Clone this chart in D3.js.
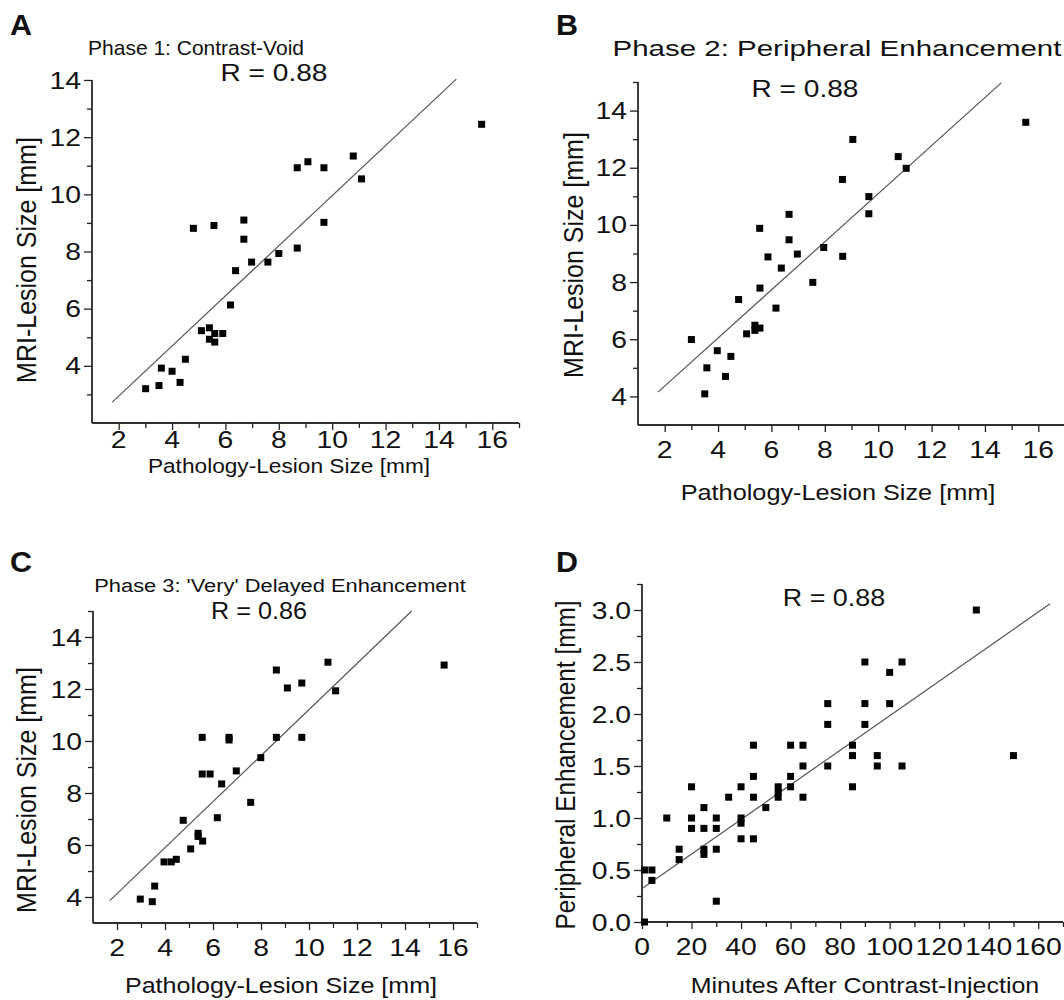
<!DOCTYPE html>
<html><head><meta charset="utf-8">
<script src="https://cdn.jsdelivr.net/npm/d3@7"></script>
<style>
body{margin:0;background:#fff}
text{font-family:"Liberation Sans",Arial,Helvetica,sans-serif;fill:#111}
</style>
</head><body>
<svg id="c" width="1064" height="1000"></svg>
<script>
// ---------- data ----------
const aX = [3.01,3.51,3.60,4.00,4.30,4.50,5.10,5.40,5.40,5.60,5.60,5.90,6.19,6.38,6.69,6.69,6.98,7.59,8.00,4.80,5.57,8.69,8.69,9.09,9.69,9.69,10.79,11.10,15.60];
const aY = [3.20,3.31,3.92,3.81,3.42,4.23,5.23,5.33,4.93,5.13,4.83,5.13,6.13,7.33,8.43,9.10,7.63,7.63,7.93,8.81,8.91,8.12,10.93,11.14,10.93,9.02,11.34,10.54,12.45];
const bX = [3.50,3.00,3.58,3.97,4.28,4.48,4.77,5.07,5.38,5.38,5.57,5.57,5.56,5.87,6.17,6.37,6.66,6.66,6.97,7.55,7.96,8.67,8.66,9.05,9.65,9.65,10.75,11.05,15.53];
const bY = [4.09,5.99,5.00,5.60,4.70,5.40,7.39,6.19,6.49,6.31,6.39,7.79,9.88,8.88,7.09,8.49,10.37,9.48,8.98,7.99,9.21,8.90,11.59,12.99,10.99,10.39,12.39,11.98,13.59];
const cX = [2.97,3.47,3.57,3.96,4.26,4.47,4.76,5.07,5.38,5.38,5.57,5.55,5.88,5.55,6.18,6.36,6.67,6.67,6.97,7.57,7.99,8.64,8.64,9.10,9.70,9.70,10.79,11.11,15.63];
const cY = [3.92,3.82,4.42,5.35,5.35,5.45,6.95,5.85,6.45,6.33,6.15,8.73,8.73,10.14,7.05,8.35,10.14,10.04,8.85,7.64,9.36,12.73,10.14,12.04,12.23,10.14,13.03,11.93,12.92];
const dX = [1,1,4,4,10,15,15,20,20,20,25,25,25,25,30,30,30,30,35,40,40,40,40,45,45,45,45,50,55,55,55,60,60,60,65,65,65,75,75,75,85,85,85,90,90,90,95,95,100,100,105,105,135,150];
const dY = [0,0.5,0.5,0.4,1.0,0.7,0.6,1.3,1.0,0.9,1.1,0.9,0.7,0.65,1.0,0.9,0.7,0.2,1.2,1.3,1.0,0.95,0.8,1.4,1.2,0.8,1.7,1.1,1.3,1.25,1.2,1.4,1.3,1.7,1.5,1.2,1.7,1.5,1.9,2.1,1.3,1.6,1.7,1.9,2.1,2.5,1.6,1.5,2.4,2.1,2.5,1.5,3.0,1.6];

const lineAX = [1.76,14.65], lineAY = [2.73,14.03];
const lineBX = [1.75,14.61], lineBY = [4.15,14.97];
const lineCX = [1.70,14.28], lineCY = [3.86,15.00];
const lineDX = [0.5,164.8],  lineDY = [0.33,3.06];

const sizeTicks = [2,4,6,8,10,12,14,16];
const sizeMinor = [3,5,7,9,11,13,15,17];
const yTicksA = [4,6,8,10,12,14];
const yMinorA = [3,5,7,9,11,13];
const yTicksBC = [4,6,8,10,12,14];
const yMinorBC = [5,7,9,11,13,15];
const minTicks = [0,20,40,60,80,100,120,140,160];
const minMinor = [10,30,50,70,90,110,130,150,170];
const enhTicks = [0,0.5,1.0,1.5,2.0,2.5,3.0];
const enhMinor = [0.25,0.75,1.25,1.75,2.25,2.75,3.25];

const letters = ["A","B","C","D"];
const titles = ["Phase 1: Contrast-Void","Phase 2: Peripheral Enhancement","Phase 3: 'Very' Delayed Enhancement",""];
const rLabels = ["R = 0.88","R = 0.88","R = 0.86","R = 0.88"];
const xTitles = ["Pathology-Lesion Size [mm]","Pathology-Lesion Size [mm]","Pathology-Lesion Size [mm]","Minutes After Contrast-Injection"];
const yTitles = ["MRI-Lesion Size [mm]","MRI-Lesion Size [mm]","MRI-Lesion Size [mm]","Peripheral Enhancement [mm]"];

// ---------- drawing ----------
const svg = d3.select("#c");

function txt(x, y, s, size, anchor, sx, opts={}) {
  const t = svg.append("text")
    .attr("transform", opts.rot ? `translate(${x},${y}) rotate(-90) scale(1,${sx})` : `translate(${x},${y}) scale(${sx},1)`)
    .attr("text-anchor", anchor).attr("font-size", size).text(s);
  if (opts.bold) t.attr("font-weight", "bold");
  return t;
}

function panel(cfg) {
  const x = d3.scaleLinear().domain(cfg.xd).range(cfg.xr);
  const y = d3.scaleLinear().domain(cfg.yd).range(cfg.yr);
  const g = svg.append("g");
  const xa = d3.axisBottom(x).tickValues(cfg.xt).tickSize(7);
  const xm = d3.axisBottom(x).tickValues(cfg.xm).tickSize(5);
  const ya = d3.axisLeft(y).tickValues(cfg.yt).tickSize(8);
  const ym = d3.axisLeft(y).tickValues(cfg.ym).tickSize(5);
  [xa, xm].forEach(a => {
    const ag = g.append("g").attr("transform", `translate(0,${cfg.yr[0]})`).call(a);
    ag.selectAll("text").remove();
    ag.selectAll("path,line").attr("stroke", "#222").attr("stroke-width", 1.3);
    ag.select(".domain").attr("d", `M${cfg.xr[0]},0H${cfg.xr[1]}`);
  });
  [ya, ym].forEach(a => {
    const ag = g.append("g").attr("transform", `translate(${cfg.xr[0]},0)`).call(a);
    ag.selectAll("text").remove();
    ag.selectAll("path,line").attr("stroke", "#222").attr("stroke-width", 1.3);
    ag.select(".domain").attr("d", `M0,${cfg.yr[0]}V${cfg.yr[1]}`);
  });
  const xf = cfg.xf || d3.format("d"), yf = cfg.yf || d3.format("d");
  cfg.xt.forEach(v => txt(x(v), cfg.yr[0] + cfg.xlOff, xf(v), 24, "middle", 1.18));
  cfg.yt.forEach(v => txt(cfg.xr[0] - 11, y(v) + 8.5, yf(v), 24, "end", 1.18));
  g.append("line")
    .attr("x1", x(cfg.lx[0])).attr("y1", y(cfg.ly[0]))
    .attr("x2", x(cfg.lx[1])).attr("y2", y(cfg.ly[1]))
    .attr("stroke", "#555").attr("stroke-width", 1.2);
  g.selectAll("rect.p").data(d3.range(cfg.px.length)).join("rect")
    .attr("x", i => x(cfg.px[i]) - 3.5).attr("y", i => y(cfg.py[i]) - 3.5)
    .attr("width", 7).attr("height", 7).attr("fill", "#000");
}

panel({xd:[1,17], xr:[92,519], yd:[2,14], yr:[423,80], xt:sizeTicks, xm:sizeMinor, yt:yTicksA, ym:yMinorA,
       px:aX, py:aY, lx:lineAX, ly:lineAY, xlOff:25});
panel({xd:[1,17], xr:[638,1065], yd:[3,15], yr:[425,82], xt:sizeTicks, xm:sizeMinor, yt:yTicksBC, ym:yMinorBC,
       px:bX, py:bY, lx:lineBX, ly:lineBY, xlOff:33});
panel({xd:[1,17], xr:[93,477], yd:[3,15], yr:[923,611], xt:sizeTicks, xm:sizeMinor, yt:yTicksBC, ym:yMinorBC,
       px:cX, py:cY, lx:lineCX, ly:lineCY, xlOff:33});
panel({xd:[0,170], xr:[642,1063], yd:[0,3.25], yr:[922,584], xt:minTicks, xm:minMinor, yt:enhTicks, ym:enhMinor,
       px:dX, py:dY, lx:lineDX, ly:lineDY, xlOff:33, yf:d3.format(".1f")});

// panel letters
txt(10, 35, letters[0], 29, "start", 1.05, {bold:true});
txt(556, 35, letters[1], 29, "start", 1.05, {bold:true});
txt(10, 572, letters[2], 29, "start", 1.05, {bold:true});
txt(556, 572, letters[3], 29, "start", 1.05, {bold:true});
// titles
txt(196, 55, titles[0], 21, "middle", 1.0);
txt(837, 56, titles[1], 22, "middle", 1.34);
txt(280, 592, titles[2], 19, "middle", 1.15);
// R labels
txt(274, 81, rLabels[0], 24, "middle", 1.17);
txt(805, 97, rLabels[1], 24, "middle", 1.17);
txt(259, 619, rLabels[2], 24, "middle", 1.05);
txt(834, 606, rLabels[3], 24, "middle", 1.12);
// axis titles
txt(289, 473, xTitles[0], 21, "middle", 1.08);
txt(838, 500, xTitles[1], 22, "middle", 1.15);
txt(281, 993, xTitles[2], 22, "middle", 1.14);
txt(865, 993, xTitles[3], 22, "middle", 1.136);
txt(36, 260, yTitles[0], 25, "middle", 1.1, {rot:true});
txt(583, 255, yTitles[1], 25, "middle", 1.1, {rot:true});
txt(36, 790, yTitles[2], 25, "middle", 1.1, {rot:true});
txt(575, 765, yTitles[3], 24.4, "middle", 1.1, {rot:true});
</script>
</body></html>
